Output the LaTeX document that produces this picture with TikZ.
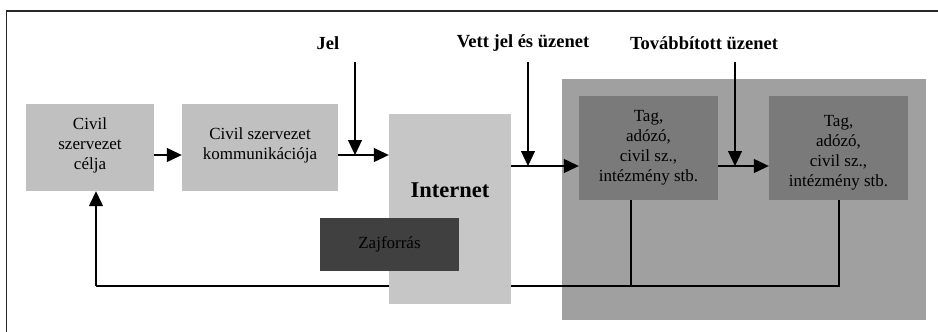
\documentclass[tikz,border=0pt]{standalone}
\usepackage{fontspec}
\setmainfont{Liberation Serif}
\usetikzlibrary{arrows.meta}
\begin{document}
\begin{tikzpicture}[x=1pt,y=-1pt,
  box/.style={draw=none,inner sep=0pt,align=center,font=\fontsize{17}{20}\selectfont},
  lbl/.style={inner sep=0pt,font=\fontsize{18.5}{22}\selectfont\bfseries},
  conn/.style={line width=1.2pt,-{Triangle[length=15pt,width=14pt]}},
  plain/.style={line width=1.2pt}]
\useasboundingbox (0,0) rectangle (938,332);
% outer frame (open to the right and bottom)
\draw[line width=1.6pt,black!85] (6.5,332) -- (6.5,11) -- (938,11);

% receiver group background
\fill[fill={rgb,255:red,160;green,160;blue,160}] (562,79) rectangle (926,320);

% feedback line (Internet box is drawn over it)
\coordinate (fbcorner) at (96,286);
\coordinate (fbend) at (840,286);
\draw[plain] (fbend) -- (fbcorner);

% boxes
\node[box,fill={rgb,255:red,192;green,192;blue,192},minimum width=128pt,minimum height=87pt] (cel) at (90,147.5) {};
\node[box] at (90,145) {Civil\\szervezet\\célja};
\node[box,fill={rgb,255:red,192;green,192;blue,192},minimum width=156pt,minimum height=87pt] (kom) at (260,147.5) {};
\node[box] at (260,145.5) {Civil szervezet\\kommunikációja};
\node[box,fill={rgb,255:red,198;green,198;blue,198},minimum width=122pt,minimum height=190pt] (net) at (450,209) {};
\node[inner sep=0pt,font=\fontsize{22.5}{26}\selectfont\bfseries] at (450,190) {Internet};
\node[box,fill={rgb,255:red,64;green,64;blue,64},minimum width=139pt,minimum height=53pt] (zaj) at (389.5,244.5) {};
\node[box] at (389.5,244) {Zajforrás};
\node[box,fill={rgb,255:red,122;green,122;blue,122},minimum width=139pt,minimum height=104pt] (tag1) at (648.5,148) {};
\node[box] at (648.5,148) {Tag,\\adózó,\\civil sz.,\\intézmény stb.};
\node[box,fill={rgb,255:red,122;green,122;blue,122},minimum width=139pt,minimum height=104pt] (tag2) at (838.5,148) {};
\node[box] at (838.5,153) {Tag,\\adózó,\\civil sz.,\\intézmény stb.};

% labels of the incoming signals
\node[lbl] (jel) at (328,43) {Jel};
\node[lbl] (vett) at (523,43) {Vett jel és üzenet};
\node[lbl] (tov) at (704,43) {Továbbított üzenet};

% main flow
\draw[conn] (cel.east |- 0,155) -- (kom.west |- 0,155);
\draw[conn] (kom.east |- 0,155) -- (net.west |- 0,155);
\draw[conn] (net.east |- 0,166) -- (tag1.west |- 0,166);
\draw[conn] (tag1.east |- 0,166) -- (tag2.west |- 0,166);

% signal arrows from above
\draw[conn] (355,62) -- (355,155);
\draw[conn] (528,62) -- (528,166);
\draw[conn] (735,62) -- (735,166);

% feedback
\draw[plain] (631,200) -- (631,286);
\draw[plain] (tag2.south -| 839,0) -- (839,286);
\draw[conn] (fbcorner) -- (cel.south -| fbcorner);
\end{tikzpicture}
\end{document}
